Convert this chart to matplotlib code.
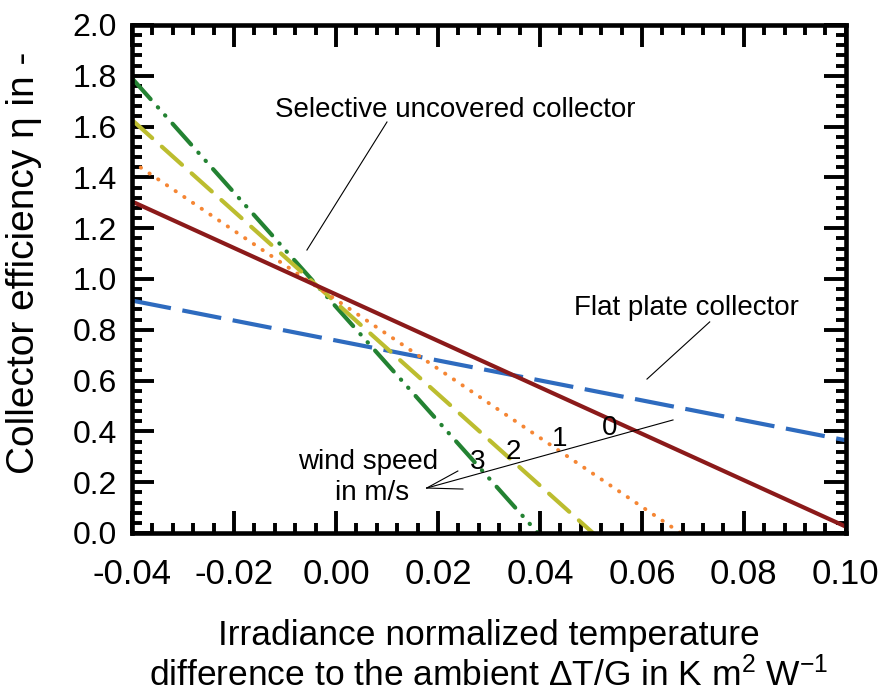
import matplotlib
matplotlib.use("Agg")
import matplotlib.pyplot as plt
from matplotlib.ticker import MultipleLocator, FormatStrFormatter

# collector lines, given by their two end points (x in K m2/W, efficiency in -)
x_wind0 = [-0.04, 0.10]
eta_wind0 = [1.305, 0.025]
x_wind1 = [-0.04, 0.0676]
eta_wind1 = [1.462, 0.0]
x_wind2 = [-0.04, 0.0504]
eta_wind2 = [1.626, 0.0]
x_wind3 = [-0.04, 0.0396]
eta_wind3 = [1.79, 0.0]
x_flat = [-0.04, 0.10]
eta_flat = [0.915, 0.365]

wind_labels = ['0', '1', '2', '3']
wind_label_x = [0.0537, 0.0439, 0.0347, 0.0278]
wind_label_y = [0.413, 0.370, 0.319, 0.280]

plt.rcParams['font.family'] = ['Liberation Sans', 'DejaVu Sans']
plt.rcParams['mathtext.fontset'] = 'custom'
plt.rcParams['mathtext.rm'] = 'Liberation Sans'
plt.rcParams['mathtext.it'] = 'Liberation Sans'

fig = plt.figure(figsize=(8.82, 6.94), dpi=100)
ax = fig.add_axes([0.1497, 0.232, 0.8093, 0.732])

ax.plot(x_flat, eta_flat, color='#2e6bbf', lw=3.0, dashes=(9.5, 2.8))
ax.plot(x_wind3, eta_wind3, color='#238232', lw=3.0, dashes=(6.7, 2.6, 0.1, 2.5, 0.1, 2.6),
        dash_capstyle='round')
ax.plot(x_wind2, eta_wind2, color='#bcbd2f', lw=3.0, dashes=(6.5, 3.1), dash_capstyle='round')
ax.plot(x_wind1, eta_wind1, color='#f58634', lw=2.8, dashes=(0.1, 2.6), dash_capstyle='round')
ax.plot(x_wind0, eta_wind0, color='#8b1a1a', lw=3.0)

ax.set_xlim(-0.04, 0.10)
ax.set_ylim(0.0, 2.0)
ax.xaxis.set_major_locator(MultipleLocator(0.02))
ax.xaxis.set_minor_locator(MultipleLocator(0.004))
ax.yaxis.set_major_locator(MultipleLocator(0.2))
ax.yaxis.set_minor_locator(MultipleLocator(0.04))
ax.xaxis.set_major_formatter(FormatStrFormatter('%.2f'))
ax.yaxis.set_major_formatter(FormatStrFormatter('%.1f'))
ax.tick_params(which='both', direction='in', top=True, right=True, width=2.8)
ax.tick_params(which='major', length=16)
ax.tick_params(which='minor', length=7.5)
ax.tick_params(axis='y', labelsize=23, pad=11)
ax.tick_params(axis='x', labelsize=25, pad=18)
for s in ax.spines.values():
    s.set_linewidth(3.3)

ax.set_ylabel('Collector efficiency \u03b7 in -', fontsize=28)
ax.yaxis.set_label_coords(-0.126, 0.532)
ax.set_xlabel('Irradiance normalized temperature\n'
              'difference to the ambient \u0394T/G in K m$^{2}$ W$^{-1}$',
              fontsize=25.5, linespacing=1.15)
ax.xaxis.set_label_coords(0.5, -0.17)

ax.text(0.0233, 1.665, 'Selective uncovered collector', fontsize=20, ha='center', va='center')
ax.plot([0.0100, -0.0057], [1.618, 1.114], color='black', lw=0.8)
ax.text(0.0688, 0.886, 'Flat plate collector', fontsize=20, ha='center', va='center')
ax.plot([0.0733, 0.0610], [0.831, 0.606], color='black', lw=0.8)

ax.text(0.0063, 0.28, 'wind speed', fontsize=20, ha='center', va='center')
ax.text(0.0071, 0.157, 'in m/s', fontsize=20, ha='center', va='center')
for t, tx, ty in zip(wind_labels, wind_label_x, wind_label_y):
    ax.text(tx, ty, t, fontsize=20, ha='center', va='center')
ax.plot([0.0178, 0.0661], [0.177, 0.445], color='black', lw=0.8)
ax.plot([0.0178, 0.0239], [0.177, 0.244], color='black', lw=0.8)
ax.plot([0.0178, 0.0249], [0.177, 0.173], color='black', lw=0.8)

fig.savefig('out.png', dpi=100)
